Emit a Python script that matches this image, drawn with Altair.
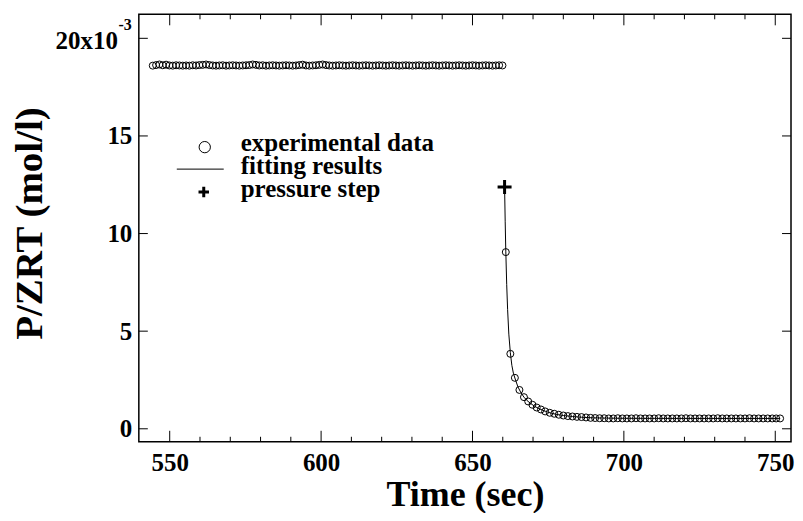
import altair as alt
import pandas as pd

FONT = "Liberation Serif"

# ---- data (P/ZRT in units of 1e-3 mol/l) ----
T_FLAT = [544.4, 545.5, 546.6, 547.7, 548.8, 549.9, 551.0, 552.1, 553.2, 554.3,
          555.4, 556.5, 557.6, 558.7, 559.8, 560.9, 562.0, 563.1, 564.2, 565.3,
          566.4, 567.5, 568.6, 569.7, 570.8, 571.9, 573.0, 574.1, 575.2, 576.3,
          577.4, 578.5, 579.6, 580.7, 581.8, 582.9, 584.0, 585.1, 586.2, 587.3,
          588.4, 589.5, 590.6, 591.7, 592.8, 593.9, 595.0, 596.1, 597.2, 598.3,
          599.4, 600.5, 601.6, 602.7, 603.8, 604.9, 606.0, 607.1, 608.2, 609.3,
          610.4, 611.5, 612.6, 613.7, 614.8, 615.9, 617.0, 618.1, 619.2, 620.3,
          621.4, 622.5, 623.6, 624.7, 625.8, 626.9, 628.0, 629.1, 630.2, 631.3,
          632.4, 633.5, 634.6, 635.7, 636.8, 637.9, 639.0, 640.1, 641.2, 642.3,
          643.4, 644.5, 645.6, 646.7, 647.8, 648.9, 650.0, 651.1, 652.2, 653.3,
          654.4, 655.5, 656.6, 657.7, 658.8, 659.9]
P_FLAT = [18.60, 18.63, 18.66, 18.62, 18.65, 18.61, 18.60, 18.62, 18.61, 18.60,
          18.61, 18.60, 18.62, 18.61, 18.63, 18.64, 18.66, 18.63, 18.61, 18.60,
          18.61, 18.62, 18.60, 18.61, 18.62, 18.61, 18.60, 18.61, 18.62, 18.63,
          18.66, 18.64, 18.61, 18.62, 18.60, 18.61, 18.62, 18.61, 18.60, 18.61,
          18.62, 18.61, 18.60, 18.61, 18.63, 18.65, 18.61, 18.60, 18.61, 18.62,
          18.64, 18.66, 18.63, 18.61, 18.60, 18.61, 18.62, 18.61, 18.60, 18.61,
          18.62, 18.61, 18.60, 18.61, 18.62, 18.61, 18.60, 18.61, 18.62, 18.61,
          18.60, 18.61, 18.62, 18.61, 18.60, 18.61, 18.62, 18.61, 18.60, 18.61,
          18.62, 18.61, 18.60, 18.61, 18.62, 18.61, 18.60, 18.61, 18.62, 18.61,
          18.60, 18.61, 18.62, 18.61, 18.60, 18.61, 18.62, 18.61, 18.60, 18.61,
          18.62, 18.61, 18.60, 18.61, 18.62, 18.61]

T_DECAY = [661.0, 662.5, 664.0, 665.5, 667.0, 668.4, 669.8, 671.2, 672.6, 674.0,
           675.5, 677.0, 678.5, 680.0, 681.5, 683.0, 684.5, 686.0, 687.5, 689.0,
           690.5, 692.0, 693.5, 695.0, 696.5, 698.0, 699.5, 701.0, 702.5, 704.0,
           705.5, 707.0, 708.5, 710.0, 711.5, 713.0, 714.5, 716.0, 717.5, 719.0,
           720.5, 722.0, 723.5, 725.0, 726.5, 728.0, 729.5, 731.0, 732.5, 734.0,
           735.5, 737.0, 738.5, 740.0, 741.5, 743.0, 744.5, 746.0, 747.5, 749.0,
           750.3, 751.6]
P_DECAY = [9.05, 3.84, 2.61, 1.99, 1.62, 1.40, 1.23, 1.09, 0.99, 0.89,
           0.82, 0.77, 0.72, 0.68, 0.65, 0.63, 0.61, 0.60, 0.58, 0.56,
           0.55, 0.54, 0.54, 0.53, 0.53, 0.54, 0.53, 0.53, 0.53, 0.54,
           0.53, 0.53, 0.53, 0.53, 0.54, 0.53, 0.53, 0.53, 0.53, 0.53,
           0.54, 0.53, 0.53, 0.53, 0.53, 0.53, 0.53, 0.54, 0.53, 0.53,
           0.53, 0.53, 0.53, 0.53, 0.54, 0.53, 0.53, 0.53, 0.53, 0.53,
           0.53, 0.53]

T_FIT = [660.6, 660.8, 661.0, 661.3, 661.6, 662.0, 662.5, 663.0, 663.5, 664.0,
         665.0, 666.0, 667.0, 668.0, 669.0, 670.0, 671.0, 672.0, 674.0, 676.0,
         678.0, 680.0, 683.0, 686.0, 690.0, 695.0, 700.0, 710.0, 720.0, 735.0,
         751.6]
P_FIT = [12.39, 10.6, 9.10, 7.40, 6.10, 4.85, 3.90, 3.25, 2.85, 2.60,
         2.15, 1.85, 1.62, 1.45, 1.32, 1.21, 1.11, 1.03, 0.90, 0.80,
         0.73, 0.68, 0.63, 0.59, 0.56, 0.545, 0.538, 0.533, 0.531, 0.530,
         0.530]

T_STEP = [660.6]
P_STEP = [12.39]

X_MAJOR = [550, 600, 650, 700, 750]
X_MINOR = [560, 570, 580, 590, 610, 620, 630, 640, 660, 670, 680, 690,
           710, 720, 730, 740]
Y_MAJOR = [0, 5, 10, 15, 20]
LEGEND_LABELS = ["experimental data", "fitting results", "pressure step"]
X_TITLE = "Time (sec)"
Y_TITLE = "P/ZRT (mol/l)"

W, H = 653, 428
xs = alt.Scale(domain=[539.8, 755.2], nice=False, zero=False)
ys = alt.Scale(domain=[-0.665, 21.23], nice=False, zero=False)

x_axis = alt.Axis(values=X_MAJOR, title=X_TITLE, ticks=False, tickSize=0, domain=False,
                  grid=False, labelFont=FONT, labelFontSize=25, labelFontWeight="bold",
                  labelColor="black", labelPadding=9, labelFlush=False, labelOverlap=False,
                  titleFont=FONT, titleFontSize=36, titleFontWeight="bold",
                  titleColor="black", titleY=64, titleBaseline="alphabetic")
y_axis = alt.Axis(values=Y_MAJOR, labelExpr="datum.value >= 20 ? '' : format(datum.value, 'd')",
                  title=Y_TITLE, ticks=False, tickSize=0, domain=False, grid=False,
                  labelFont=FONT, labelFontSize=25, labelFontWeight="bold",
                  labelColor="black", labelPadding=7, labelFlush=False, labelOverlap=False,
                  titleFont=FONT, titleFontSize=39, titleFontWeight="bold",
                  titleColor="black", titleX=-109, titleY=209, titleAngle=270,
                  titleAlign="center", titleBaseline="middle")

exp_df = pd.DataFrame({"t": T_FLAT + T_DECAY, "p": P_FLAT + P_DECAY})
fit_df = pd.DataFrame({"t": T_FIT, "p": P_FIT})
step_df = pd.DataFrame({"t": T_STEP, "p": P_STEP})

points = alt.Chart(exp_df).mark_point(
    shape="circle", size=49, filled=False, stroke="black", strokeWidth=1, opacity=1
).encode(
    x=alt.X("t:Q", scale=xs, axis=x_axis),
    y=alt.Y("p:Q", scale=ys, axis=y_axis),
)

fit = alt.Chart(fit_df).mark_line(color="black", strokeWidth=1).encode(
    x=alt.X("t:Q", scale=xs), y=alt.Y("p:Q", scale=ys)
)

CROSS = "M-1,0H1M0,-1V1"
step = alt.Chart(step_df).mark_point(
    shape=CROSS, size=196, filled=False, stroke="black", strokeWidth=3, opacity=1
).encode(x=alt.X("t:Q", scale=xs), y=alt.Y("p:Q", scale=ys))

# frame ticks (inward)
xmaj = pd.DataFrame({"t": X_MAJOR})
xmin = pd.DataFrame({"t": X_MINOR})
ymaj = pd.DataFrame({"p": Y_MAJOR})
tick_style = dict(color="black", strokeWidth=1)

def xt(df, y0, y1):
    return alt.Chart(df).mark_rule(**tick_style).encode(
        x=alt.X("t:Q", scale=xs), y=alt.value(y0), y2=alt.value(y1))

def yt(df, x0, x1):
    return alt.Chart(df).mark_rule(**tick_style).encode(
        y=alt.Y("p:Q", scale=ys), x=alt.value(x0), x2=alt.value(x1))

ticks = [
    xt(xmaj, H, H - 11), xt(xmaj, 0, 11),
    xt(xmin, H, H - 5), xt(xmin, 0, 5),
    yt(ymaj, 0, 9), yt(ymaj, W, W - 9),
]

# top y label "20x10^-3"
top_df = pd.DataFrame({"p": [20]})
lab20 = alt.Chart(top_df).mark_text(
    font=FONT, fontSize=25, fontWeight="bold", color="black", align="right",
    baseline="middle", dy=3
).encode(y=alt.Y("p:Q", scale=ys), x=alt.value(-21), text=alt.value("20x10"))
labexp = alt.Chart(top_df).mark_text(
    font=FONT, fontSize=16, fontWeight="bold", color="black", align="right",
    baseline="middle", dy=-13
).encode(y=alt.Y("p:Q", scale=ys), x=alt.value(-7), text=alt.value("-3"))

# legend
one = pd.DataFrame({"k": [0]})
leg_circle = alt.Chart(one).mark_point(
    shape="circle", size=128, filled=False, stroke="black", strokeWidth=1, opacity=1
).encode(x=alt.value(66), y=alt.value(133))
leg_line = alt.Chart(one).mark_rule(color="black", strokeWidth=1).encode(
    x=alt.value(38), x2=alt.value(85), y=alt.value(155))
leg_cross = alt.Chart(one).mark_point(
    shape=CROSS, size=110, filled=False, stroke="black", strokeWidth=3, opacity=1
).encode(x=alt.value(65), y=alt.value(178))

def leg_text(label, y):
    return alt.Chart(one).mark_text(
        font=FONT, fontSize=25, fontWeight="bold", color="black",
        align="left", baseline="alphabetic"
    ).encode(x=alt.value(102), y=alt.value(y), text=alt.value(label))

legend = [leg_circle, leg_line, leg_cross,
          leg_text(LEGEND_LABELS[0], 137), leg_text(LEGEND_LABELS[1], 160),
          leg_text(LEGEND_LABELS[2], 183)]

chart = alt.layer(points, fit, step, *ticks, lab20, labexp, *legend).properties(
    width=W, height=H,
    autosize=alt.AutoSizeParams(type="none"),
    padding={"left": 131, "top": 6, "right": 4, "bottom": 71},
    background="white",
).configure_view(stroke="black", strokeWidth=1.5)

chart.save("out.html", embed_options={"renderer": "svg", "actions": False})
